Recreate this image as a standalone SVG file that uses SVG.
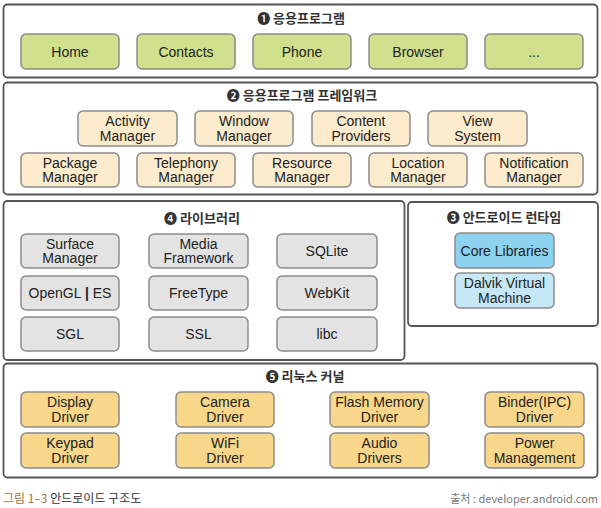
<svg xmlns="http://www.w3.org/2000/svg" width="601" height="508" viewBox="0 0 601 508">
<style>
.layer{fill:#fff;stroke:#555;stroke-width:1.8}
.b{stroke:#8c8c8c;stroke-width:1.5}
.app{fill:#d0e08c}
.fw{fill:#fcebcc}
.lib{fill:#e3e3e3}
.core{fill:#8dd2ef}
.dvm{fill:#c6e7f6}
.drv{fill:#f8d78a}
text{font-family:"Liberation Sans",Arial,"Noto Sans CJK KR",sans-serif;fill:#222}
.t{font-size:14px;text-anchor:middle}
.h{font-family:"Noto Sans CJK KR","Liberation Sans",sans-serif;font-size:13px;font-weight:bold;text-anchor:middle;fill:#333}
</style>
<rect width="601" height="508" fill="#fff"/>
<g id="layer1">
<rect class="layer" x="3.5" y="4.5" width="594" height="73" rx="4"/>
<text class="h" x="301" y="23">❶ 응용프로그램</text>
</g>
<g id="home"><rect class="b app" x="21" y="34" width="98" height="35" rx="5"/><text class="t" x="70" y="56.5">Home</text></g>
<g id="contacts"><rect class="b app" x="137" y="34" width="98" height="35" rx="5"/><text class="t" x="186" y="56.5">Contacts</text></g>
<g id="phone"><rect class="b app" x="253" y="34" width="98" height="35" rx="5"/><text class="t" x="302" y="56.5">Phone</text></g>
<g id="browser"><rect class="b app" x="369" y="34" width="98" height="35" rx="5"/><text class="t" x="418" y="56.5">Browser</text></g>
<g id="more"><rect class="b app" x="485" y="34" width="98" height="35" rx="5"/><text class="t" x="534" y="56.5">...</text></g>

<g id="layer2">
<rect class="layer" x="3.5" y="82.5" width="594" height="112" rx="4"/>
<text class="h" x="302" y="100">❷ 응용프로그램 프레임워크</text>
</g>
<g id="activity"><rect class="b fw" x="78" y="111" width="99" height="35" rx="5"/><text class="t" x="127.5" y="126">Activity</text><text class="t" x="127.5" y="140.5">Manager</text></g>
<g id="window"><rect class="b fw" x="195" y="111" width="98" height="35" rx="5"/><text class="t" x="244" y="126">Window</text><text class="t" x="244" y="140.5">Manager</text></g>
<g id="content"><rect class="b fw" x="312" y="111" width="98" height="35" rx="5"/><text class="t" x="361" y="126">Content</text><text class="t" x="361" y="140.5">Providers</text></g>
<g id="view"><rect class="b fw" x="428" y="111" width="99" height="35" rx="5"/><text class="t" x="477.5" y="126">View</text><text class="t" x="477.5" y="140.5">System</text></g>
<g id="package"><rect class="b fw" x="21" y="153" width="98" height="34" rx="5"/><text class="t" x="70" y="167.5">Package</text><text class="t" x="70" y="182">Manager</text></g>
<g id="telephony"><rect class="b fw" x="137" y="153" width="98" height="34" rx="5"/><text class="t" x="186" y="167.5">Telephony</text><text class="t" x="186" y="182">Manager</text></g>
<g id="resource"><rect class="b fw" x="253" y="153" width="98" height="34" rx="5"/><text class="t" x="302" y="167.5">Resource</text><text class="t" x="302" y="182">Manager</text></g>
<g id="location"><rect class="b fw" x="369" y="153" width="98" height="34" rx="5"/><text class="t" x="418" y="167.5">Location</text><text class="t" x="418" y="182">Manager</text></g>
<g id="notification"><rect class="b fw" x="485" y="153" width="98" height="34" rx="5"/><text class="t" x="534" y="167.5">Notification</text><text class="t" x="534" y="182">Manager</text></g>

<g id="layer4">
<rect class="layer" x="3.5" y="201" width="401" height="159" rx="4"/>
<text class="h" x="202" y="223">❹ 라이브러리</text>
</g>
<g id="surface"><rect class="b lib" x="21" y="234" width="98" height="34" rx="5"/><text class="t" x="70" y="248.5">Surface</text><text class="t" x="70" y="263">Manager</text></g>
<g id="media"><rect class="b lib" x="149" y="234" width="99" height="34" rx="5"/><text class="t" x="198.5" y="248.5">Media</text><text class="t" x="198.5" y="263">Framework</text></g>
<g id="sqlite"><rect class="b lib" x="277" y="234" width="100" height="34" rx="5"/><text class="t" x="327" y="256">SQLite</text></g>
<g id="opengl"><rect class="b lib" x="21" y="276" width="98" height="34" rx="5"/><text class="t" x="70" y="298">OpenGL <tspan font-weight="bold">|</tspan> ES</text></g>
<g id="freetype"><rect class="b lib" x="149" y="276" width="99" height="34" rx="5"/><text class="t" x="198.5" y="298">FreeType</text></g>
<g id="webkit"><rect class="b lib" x="277" y="276" width="100" height="34" rx="5"/><text class="t" x="327" y="298">WebKit</text></g>
<g id="sgl"><rect class="b lib" x="21" y="317" width="98" height="34" rx="5"/><text class="t" x="70" y="339">SGL</text></g>
<g id="ssl"><rect class="b lib" x="149" y="317" width="99" height="34" rx="5"/><text class="t" x="198.5" y="339">SSL</text></g>
<g id="libc"><rect class="b lib" x="277" y="317" width="100" height="34" rx="5"/><text class="t" x="327" y="339">libc</text></g>

<g id="layer3">
<rect class="layer" x="408" y="202" width="190" height="124" rx="4"/>
<text class="h" x="504" y="222">❸ 안드로이드 런타임</text>
</g>
<g id="corelib"><rect class="b core" x="455" y="233" width="99" height="35" rx="5"/><text class="t" x="504.5" y="255.5">Core Libraries</text></g>
<g id="dalvik"><rect class="b dvm" x="455" y="273" width="99" height="35" rx="5"/><text class="t" x="504.5" y="288">Dalvik Virtual</text><text class="t" x="504.5" y="302.5">Machine</text></g>

<g id="layer5">
<rect class="layer" x="3.5" y="363.5" width="594" height="114" rx="4"/>
<text class="h" x="305" y="381">❺ 리눅스 커널</text>
</g>
<g id="display"><rect class="b drv" x="21" y="392" width="98" height="35" rx="5"/><text class="t" x="70" y="407">Display</text><text class="t" x="70" y="421.5">Driver</text></g>
<g id="camera"><rect class="b drv" x="176" y="392" width="98" height="35" rx="5"/><text class="t" x="225" y="407">Camera</text><text class="t" x="225" y="421.5">Driver</text></g>
<g id="flash"><rect class="b drv" x="330" y="392" width="99" height="35" rx="5"/><text class="t" x="379.5" y="407">Flash Memory</text><text class="t" x="379.5" y="421.5">Driver</text></g>
<g id="binder"><rect class="b drv" x="485" y="392" width="99" height="35" rx="5"/><text class="t" x="534.5" y="407">Binder(IPC)</text><text class="t" x="534.5" y="421.5">Driver</text></g>
<g id="keypad"><rect class="b drv" x="21" y="433" width="98" height="35" rx="5"/><text class="t" x="70" y="448">Keypad</text><text class="t" x="70" y="462.5">Driver</text></g>
<g id="wifi"><rect class="b drv" x="176" y="433" width="98" height="35" rx="5"/><text class="t" x="225" y="448">WiFi</text><text class="t" x="225" y="462.5">Driver</text></g>
<g id="audio"><rect class="b drv" x="330" y="433" width="99" height="35" rx="5"/><text class="t" x="379.5" y="448">Audio</text><text class="t" x="379.5" y="462.5">Drivers</text></g>
<g id="power"><rect class="b drv" x="485" y="433" width="99" height="35" rx="5"/><text class="t" x="534.5" y="448">Power</text><text class="t" x="534.5" y="462.5">Management</text></g>

<g id="connectors"></g>

<text x="3" y="503" style="font-family:'Noto Sans CJK KR','Liberation Sans',sans-serif;font-size:12px"><tspan fill="#a27445">그림 1–3</tspan><tspan fill="#333"> 안드로이드 구조도</tspan></text>
<text x="598" y="503" style="font-family:'Noto Sans CJK KR','Liberation Sans',sans-serif;font-size:11px;text-anchor:end;fill:#777">출처 : developer.android.com</text>
</svg>
